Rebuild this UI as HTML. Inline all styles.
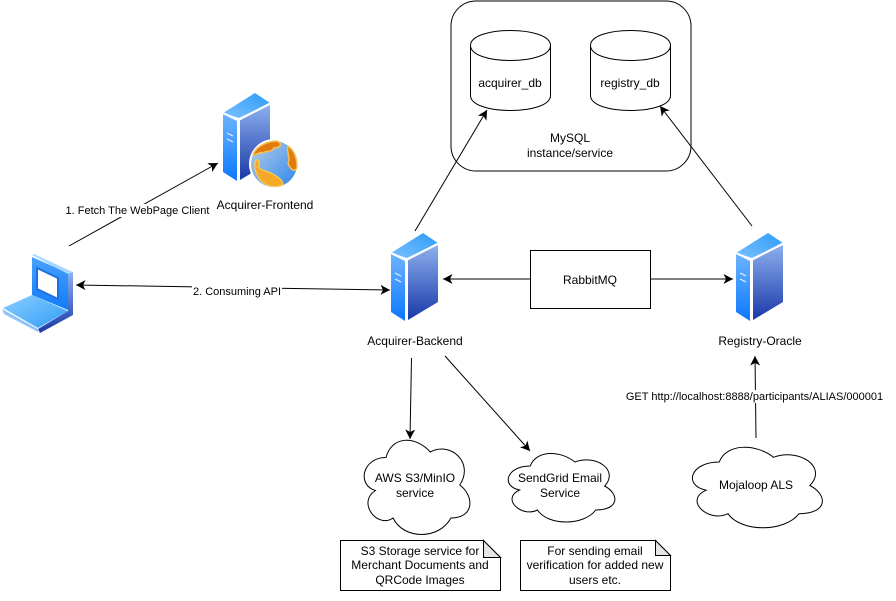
<!DOCTYPE html>
<html>
<head>
<meta charset="utf-8">
<style>
html,body{margin:0;padding:0;background:#fff}
svg{display:block}
text{font-family:"Liberation Sans",sans-serif;font-size:12px;fill:#000;text-anchor:middle}
.l{font-size:11px}
.s{fill:#fff;stroke:#000;stroke-width:1}
.e{fill:none;stroke:#000;stroke-width:1}
</style>
</head>
<body>
<svg width="896" height="601" viewBox="0 0 896 601" xmlns="http://www.w3.org/2000/svg">
<defs>
<marker id="a" markerUnits="userSpaceOnUse" markerWidth="12" markerHeight="12" refX="10" refY="6" orient="auto-start-reverse">
<path d="M0.500 1L10 6L0.500 11L3 6Z" fill="#000"/>
</marker>
<linearGradient id="fr" x1="0" y1="0" x2="0" y2="1"><stop offset="0" stop-color="#6eb4ff"/><stop offset="1" stop-color="#0a78ff"/></linearGradient>
<linearGradient id="rt" x1="0" y1="0" x2="0" y2="1"><stop offset="0" stop-color="#8cb0ee"/><stop offset="1" stop-color="#1a38a8"/></linearGradient>
<linearGradient id="tp" x1="0" y1="1" x2="1" y2="0"><stop offset="0" stop-color="#7cc0ff"/><stop offset="1" stop-color="#2c9cf8"/></linearGradient>
<linearGradient id="lb" x1="0" y1="0" x2="1" y2="1"><stop offset="0" stop-color="#8ccfff"/><stop offset="1" stop-color="#2f9df5"/></linearGradient>
<linearGradient id="sc" x1="0" y1="0" x2="0" y2="1"><stop offset="0" stop-color="#4aa2fb"/><stop offset="1" stop-color="#0f7cf8"/></linearGradient>
<linearGradient id="gl" x1="0" y1="0" x2="1" y2="1"><stop offset="0" stop-color="#b5cfe6"/><stop offset="1" stop-color="#2f86ee"/></linearGradient>
<g id="srv">
<path d="M391 253L423 233L438 243L407 258Z" fill="url(#tp)"/>
<path d="M391 254L405 261V321L391 312Z" fill="url(#fr)"/>
<path d="M408 260L438 245V302L408 320Z" fill="url(#rt)"/>
<path d="M391 253L406.500 260L438 243.500M406.500 260V322" fill="none" stroke="#fff" stroke-width="2"/>
<path d="M395 273L401 276M395 279L401 282" stroke="#e4f0ff" stroke-width="1.2"/>
</g>
</defs>

<rect x="451" y="1" width="240" height="170" rx="25" class="s"/>
<path class="s" d="M470.500 45.500C470.500 25.500 550.500 25.500 550.500 45.500V95.500C550.500 115.500 470.500 115.500 470.500 95.500Z"/>
<path class="e" d="M470.500 45.500C470.500 65.500 550.500 65.500 550.500 45.500"/>
<path class="s" d="M590.500 45.500C590.500 25.500 670.500 25.500 670.500 45.500V95.500C670.500 115.500 590.500 115.500 590.500 95.500Z"/>
<path class="e" d="M590.500 45.500C590.500 65.500 670.500 65.500 670.500 45.500"/>
<text x="510" y="87">acquirer_db</text>
<text x="630" y="87">registry_db</text>
<text x="570" y="142">MySQL</text>
<text x="570" y="157">instance/service</text>

<!-- servers -->
<use href="#srv" transform="translate(-168,-140)"/>
<use href="#srv"/>
<use href="#srv" transform="translate(345,0)"/>

<!-- globe -->
<circle cx="274" cy="164" r="25" fill="#fff"/>
<circle cx="274" cy="164" r="23" fill="url(#gl)"/>
<path d="M253 155C255 148 264 142 276 141C284 143 280 148 274 148C271 153 266 150 263 153C259 151 256 156 253 155Z" fill="#e37a10" stroke="#f6c050" stroke-width="1.5"/>
<path d="M288 146C294 150 297 158 297 167C296 173 290 170 288 163C291 158 286 152 288 146Z" fill="#e37a10" stroke="#f6c050" stroke-width="1.5"/>
<path d="M256 160C260 159 260 165 258 167C262 171 267 171 271 173C276 176 283 179 283 185C276 188 266 187 260 180C256 174 253 166 256 160Z" fill="#f6a928" stroke="#f8cc60" stroke-width="1.2"/>

<!-- laptop -->
<path d="M32 257L68 273V310L32 295Z" fill="url(#sc)"/>
<path d="M32 255L34 254L73 272L68 274Z" fill="#a8d8ff"/>
<path d="M37 268L58 278V299L37 289Z" fill="#fff" stroke="#1f6fe0" stroke-width="2"/>
<path d="M68 274L73 272V315L40 333L38 329L68 311Z" fill="url(#rt)"/>
<path d="M3 308L32 295L68 311L38 328Z" fill="url(#lb)"/>
<path d="M2 309L38 329V332L4 314Z" fill="#8fc6fa"/>

<!-- connectors -->
<path class="e" d="M69 246L218 163" marker-end="url(#a)"/>
<path class="e" d="M76 285L390 290" marker-start="url(#a)" marker-end="url(#a)"/>
<path class="e" d="M415 231L487 110" marker-end="url(#a)"/>
<path class="e" d="M530 279H443" marker-end="url(#a)"/>
<path class="e" d="M650 279H733" marker-end="url(#a)"/>
<path class="e" d="M752 226L660 106" marker-end="url(#a)"/>
<path class="e" d="M411.500 358L410 439" marker-end="url(#a)"/>
<path class="e" d="M445 356L530 451" marker-end="url(#a)"/>
<path class="e" d="M756 438L755 356" marker-end="url(#a)"/>

<rect x="530.500" y="250.500" width="120" height="58" class="s"/>
<text x="590" y="284">RabbitMQ</text>

<!-- edge labels -->
<rect x="64" y="204" width="147" height="13" fill="#fff"/>
<text class="l" x="137.500" y="214">1. Fetch The WebPage Client</text>
<rect x="192" y="285" width="90" height="13" fill="#fff"/>
<text class="l" x="237" y="295">2. Consuming API</text>
<rect x="626" y="390" width="257" height="13" fill="#fff"/>
<text class="l" x="754.500" y="400">GET http://localhost:8888/participants/ALIAS/000001</text>

<text x="265" y="209">Acquirer-Frontend</text>
<text x="415" y="345">Acquirer-Backend</text>
<text x="760" y="345">Registry-Oracle</text>

<!-- clouds -->
<svg x="356.500" y="430" width="118" height="110" viewBox="0 0 100 100" preserveAspectRatio="none" overflow="visible">
<path class="s" vector-effect="non-scaling-stroke" d="M25 25C5 25 0 50 16 55C0 66 18 90 31 80C40 100 70 100 80 80C100 80 100 60 87.500 50C100 30 80 10 62.500 20C50 5 30 5 25 25Z"/>
</svg>
<svg x="500.500" y="446" width="119" height="80" viewBox="0 0 100 100" preserveAspectRatio="none" overflow="visible">
<path class="s" vector-effect="non-scaling-stroke" d="M25 25C5 25 0 50 16 55C0 66 18 90 31 80C40 100 70 100 80 80C100 80 100 60 87.500 50C100 30 80 10 62.500 20C50 5 30 5 25 25Z"/>
</svg>
<svg x="683" y="438.500" width="145" height="94" viewBox="0 0 100 100" preserveAspectRatio="none" overflow="visible">
<path class="s" vector-effect="non-scaling-stroke" d="M25 25C5 25 0 50 16 55C0 66 18 90 31 80C40 100 70 100 80 80C100 80 100 60 87.500 50C100 30 80 10 62.500 20C50 5 30 5 25 25Z"/>
</svg>
<text x="415" y="482">AWS S3/MinIO</text>
<text x="415" y="497">service</text>
<text x="560" y="482">SendGrid Email</text>
<text x="560" y="497">Service</text>
<text x="756" y="489">Mojaloop ALS</text>

<!-- notes -->
<path class="s" d="M340.500 540.500H483.500L500.500 557.500V590.500H340.500Z"/>
<path d="M483.500 540.500V557.500H500.500Z" fill="#e6e6e6" stroke="#000"/>
<path class="s" d="M520.500 540.500H655.500L670.500 555.500V590.500H520.500Z"/>
<path d="M655.500 540.500V555.500H670.500Z" fill="#e6e6e6" stroke="#000"/>
<text x="420" y="555">S3 Storage service for</text>
<text x="420" y="569">Merchant Documents and</text>
<text x="420" y="584">QRCode Images</text>
<text x="595" y="555">For sending email</text>
<text x="595" y="569">verification for added new</text>
<text x="595" y="584">users etc.</text>
</svg>
</body>
</html>
